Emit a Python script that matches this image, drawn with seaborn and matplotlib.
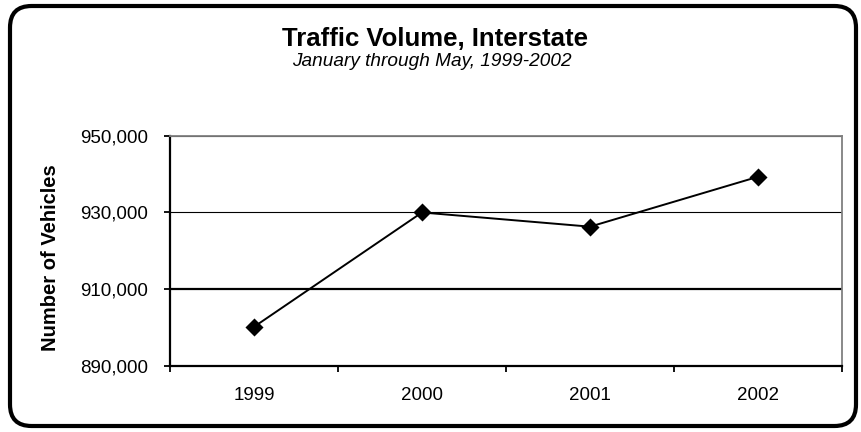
import matplotlib
matplotlib.use("Agg")
import matplotlib.pyplot as plt
import seaborn as sns
import pandas as pd
from matplotlib.patches import FancyBboxPatch
from matplotlib.ticker import FuncFormatter, FixedLocator

years = ["1999", "2000", "2001", "2002"]
vehicles = [900200, 930000, 926300, 939300]
y_ticks = [890000, 910000, 930000, 950000]

title = "Traffic Volume, Interstate"
subtitle = "January through May, 1999-2002"
ylabel = "Number of Vehicles"

df = pd.DataFrame({"year": years, "vehicles": vehicles})

sns.set_theme(style="white")
plt.rcParams["font.family"] = ["Liberation Sans", "DejaVu Sans"]

fig = plt.figure(figsize=(8.62, 4.32), dpi=100)
ax = fig.add_axes([170 / 862, 1 - 366 / 432, 672 / 862, (366 - 135.7) / 432])

sns.pointplot(data=df, x="year", y="vehicles", ax=ax, color="black",
              markers="D", markersize=8, linewidth=1.4, errorbar=None)

ax.set_ylim(y_ticks[0], y_ticks[-1])
ax.set_xlim(-0.5, len(years) - 0.5)
ax.yaxis.set_major_locator(FixedLocator(y_ticks))
ax.yaxis.set_major_formatter(FuncFormatter(lambda v, p: f"{int(v):,}"))

# gridlines
ax.grid(axis="y", color="black", linewidth=0.8)
ax.set_axisbelow(True)
for gl, v in zip(ax.get_ygridlines(), y_ticks):
    if v == 910000:
        gl.set_linewidth(1.6)

# spines
for s in ["left", "bottom"]:
    ax.spines[s].set_color("black")
    ax.spines[s].set_linewidth(1.6)
for s in ["top", "right"]:
    ax.spines[s].set_color("#808080")
    ax.spines[s].set_linewidth(1.3)
    ax.spines[s].set_visible(True)

# ticks
ax.tick_params(axis="y", which="major", direction="out", length=4.5, width=1.3,
               color="black", pad=11.5, labelsize=13.5, labelcolor="black", left=True)
ax.xaxis.set_minor_locator(FixedLocator([i - 0.5 for i in range(len(years) + 1)]))
ax.tick_params(axis="x", which="major", length=0, pad=15, labelsize=13.5,
               labelcolor="black", bottom=True)
ax.tick_params(axis="x", which="minor", direction="out", length=4.5, width=1.3,
               color="black", bottom=True)

ax.set_xlabel("")
ax.set_ylabel(ylabel, fontsize=14.5, fontweight="bold", color="black")
ax.yaxis.set_label_coords((60 - 170) / 672, (366 - 258) / 230.3)

fig.text(435.5 / 862, 1 - 45.7 / 432, title, ha="center", va="baseline",
         fontsize=18.5, fontweight="bold", color="black")
fig.text(432 / 862, 1 - 66.5 / 432, subtitle, ha="center", va="baseline",
         fontsize=13.7, fontstyle="italic", color="black")

# outer rounded border
border = FancyBboxPatch((10 / 862, 6 / 432), (856 - 10) / 862, (426 - 6) / 432,
                        boxstyle="round,pad=0,rounding_size=0.025",
                        transform=fig.transFigure, fill=False,
                        edgecolor="black", linewidth=3, mutation_aspect=862 / 432)
fig.patches.append(border)

fig.savefig("out.png", dpi=100, facecolor="white")
